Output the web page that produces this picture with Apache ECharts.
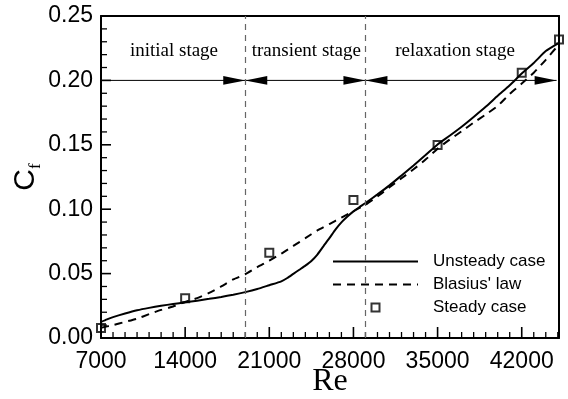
<!DOCTYPE html>
<html>
<head>
<meta charset="utf-8">
<script src="https://cdn.jsdelivr.net/npm/echarts@6/dist/echarts.min.js"></script>
<style>
    html, body { margin: 0; padding: 0; background: #fff; }
    #chart { width: 568px; height: 399px; }
</style>
</head>
<body>
<div id="chart"></div>
<script>
// unsteady case (solid line)
const unsteadyRe = [
    7000, 7500, 8000, 9000, 10000, 11000, 12000, 13000, 14000, 15000,
    16000, 17000, 18000, 19000, 20000, 21000, 22000, 22500, 23000, 23500,
    24000, 24500, 25000, 25500, 26000, 26500, 27000, 27500, 28000, 28500,
    29000, 30000, 31000, 32000, 33000, 34000, 35000, 36000, 37000, 38000,
    39000, 40000, 41000, 42000, 43000, 44000, 45100
]
const unsteadyCf = [
    0.0125, 0.0145, 0.0162, 0.0190, 0.0215, 0.0234, 0.0250, 0.0264, 0.0277, 0.0290,
    0.0304, 0.0319, 0.0336, 0.0356, 0.0380, 0.0410, 0.0440, 0.0466, 0.0498, 0.0530,
    0.0562, 0.0598, 0.0648, 0.0712, 0.0775, 0.0842, 0.0898, 0.0943, 0.0983, 0.1016,
    0.1048, 0.1115, 0.1185, 0.1262, 0.1340, 0.1420, 0.1503, 0.1570, 0.1640, 0.1716,
    0.1795, 0.1880, 0.1962, 0.2053, 0.2135, 0.2228, 0.2292
]

// Blasius' law (dashed line)
const blasiusRe = [
    7000, 8000, 9000, 10000, 11000, 12000, 13000, 14000, 15000, 16000,
    17000, 18000, 19000, 20000, 21000, 22000, 23000, 24000, 25000, 26000,
    27000, 28000, 29000, 30000, 31000, 32000, 33000, 34000, 35000, 36000,
    37000, 38000, 39000, 40000, 41000, 42000, 43000, 44000, 45100
]
const blasiusCf = [
    0.0080, 0.0100, 0.0125, 0.0150, 0.0185, 0.0218, 0.0245, 0.0280, 0.0310, 0.0350,
    0.0400, 0.0455, 0.0495, 0.0550, 0.0600, 0.0655, 0.0715, 0.0775, 0.0835, 0.0885,
    0.0935, 0.0985, 0.1035, 0.1100, 0.1170, 0.1240, 0.1310, 0.1385, 0.1470, 0.1540,
    0.1605, 0.1672, 0.1735, 0.1802, 0.1895, 0.1975, 0.2060, 0.2160, 0.2280
]

// steady case (squares)
const steadyRe = [7000, 14000, 21000, 28000, 35000, 42000, 45100]
const steadyCf = [0.0078, 0.0308, 0.0662, 0.1071, 0.1498, 0.2059, 0.2318]

// stage annotations
const stageBounds = [19000, 29000]
const stageNames = ['initial stage', 'transient stage', 'relaxation stage']
const stageTextRe = [13070, 24080, 36450]
const stageTextCf = 0.223
const arrowCf = 0.20
const arrowLineRe = [7000, 44900]
const arrowTipRe = [19000, 19000, 29000, 29000, 44900]
const arrowDir = [1, -1, 1, -1, 1]

// axis ranges and ticks (major / minor), drawn inward
const reMin = 7000
const reMax = 45100
const cfMin = 0
const cfMax = 0.25
const reMajorTicks = [14000, 21000, 28000, 35000, 42000]
const cfMajorTicks = [0.05, 0.10, 0.15, 0.20]
const reMinorStep = 1000
const cfMinorStep = 0.01

const sans = 'Liberation Sans, Arial, sans-serif'
const serif = 'Liberation Serif, Times New Roman, serif'

const zip = (xs, ys) => xs.map((x, i) => [x, ys[i]])

// tick items: [re, cf, axis (0 = x, 1 = y), major?]
const tickItems = []
for (let v = reMin + reMinorStep; v < reMax; v += reMinorStep) {
    tickItems.push([v, cfMin, 0, reMajorTicks.includes(v) ? 1 : 0])
}
for (let k = 1; k < 25; k++) {
    const v = Math.round(k * cfMinorStep * 100) / 100
    tickItems.push([reMin, v, 1, cfMajorTicks.includes(v) ? 1 : 0])
}

const frameLine = { show: true, onZero: false, lineStyle: { color: '#000', width: 2 } }

const chart = echarts.init(document.getElementById('chart'))

const option = {
    animation: false,
    backgroundColor: '#fff',
    grid: {
        left: 101,
        right: 9,
        top: 16,
        bottom: 61,
        outerBoundsMode: 'none'
    },
    legend: {
        orient: 'vertical',
        left: 327,
        top: 248,
        itemWidth: 85,
        itemHeight: 8,
        itemGap: 6,
        selectedMode: false,
        data: [
            { name: 'Unsteady case', itemStyle: { opacity: 0 } },
            { name: "Blasius' law", itemStyle: { opacity: 0 } },
            { name: 'Steady case', icon: 'path://M0,0L10,0L10,10L0,10Z' }
        ],
        textStyle: {
            fontFamily: sans,
            fontSize: 17,
            color: '#000',
            padding: [0, 0, 0, 10]
        }
    },
    xAxis: [
        {
            type: 'value',
            position: 'bottom',
            min: reMin,
            max: reMax,
            interval: 7000,
            name: 'Re',
            nameLocation: 'middle',
            nameGap: 28,
            nameMoveOverlap: false,
            nameTextStyle: { fontFamily: serif, fontSize: 32, color: '#000' },
            axisLine: frameLine,
            axisTick: { show: false },
            axisLabel: {
                color: '#000',
                fontFamily: sans,
                fontSize: 23,
                margin: 12,
                showMaxLabel: false,
                formatter: (v) => String(v)
            },
            splitLine: { show: false }
        },
        {
            // top frame
            type: 'value',
            position: 'top',
            min: reMin,
            max: reMax,
            axisLine: frameLine,
            axisTick: { show: false },
            axisLabel: { show: false },
            splitLine: { show: false }
        }
    ],
    yAxis: [
        {
            type: 'value',
            position: 'left',
            min: cfMin,
            max: cfMax,
            interval: 0.05,
            name: '{c|C}{f|f}',
            nameLocation: 'middle',
            nameGap: 57,
            nameRotate: 90,
            nameMoveOverlap: false,
            nameTextStyle: {
                rich: {
                    c: { fontFamily: sans, fontSize: 30, color: '#000', padding: [0, 0, 3, 0] },
                    f: { fontFamily: serif, fontSize: 17, color: '#000', verticalAlign: 'bottom' }
                }
            },
            axisLine: frameLine,
            axisTick: { show: false },
            axisLabel: {
                color: '#000',
                fontFamily: sans,
                fontSize: 23,
                margin: 8,
                formatter: (v) => Number(v).toFixed(2)
            },
            splitLine: { show: false }
        },
        {
            // right frame
            type: 'value',
            position: 'right',
            min: cfMin,
            max: cfMax,
            axisLine: frameLine,
            axisTick: { show: false },
            axisLabel: { show: false },
            splitLine: { show: false }
        }
    ],
    series: [
        {
            name: 'stage line',
            type: 'line',
            data: zip(arrowLineRe, [arrowCf, arrowCf]),
            symbol: 'none',
            lineStyle: { color: '#000', width: 1 },
            silent: true,
            markLine: {
                silent: true,
                symbol: ['none', 'none'],
                label: { show: false },
                lineStyle: { color: '#666', type: [6, 5], width: 1.2 },
                data: stageBounds.map((v) => ({ xAxis: v }))
            }
        },
        {
            name: 'stage arrows',
            type: 'custom',
            silent: true,
            data: arrowTipRe.map((re, i) => [re, arrowCf, arrowDir[i]]),
            encode: { x: 0, y: 1 },
            renderItem(params, api) {
                const tip = api.coord([api.value(0), api.value(1)])
                const d = api.value(2)
                return {
                    type: 'polygon',
                    shape: {
                        points: [
                            tip,
                            [tip[0] - d * 22, tip[1] - 4.3],
                            [tip[0] - d * 22, tip[1] + 4.3]
                        ]
                    },
                    style: { fill: '#000' }
                }
            }
        },
        {
            // inward axis ticks, drawn as thin filled bars
            name: 'axis ticks',
            type: 'custom',
            silent: true,
            data: tickItems,
            encode: { x: 0, y: 1 },
            renderItem(params, api) {
                const p = api.coord([api.value(0), api.value(1)])
                const axis = api.value(2)
                const major = api.value(3) === 1
                const len = major ? (axis === 0 ? 11 : 10) : 6
                const hw = major ? 0.8 : 0.65
                const pts = axis === 0
                    ? [[p[0] - hw, p[1]], [p[0] + hw, p[1]], [p[0] + hw, p[1] - len], [p[0] - hw, p[1] - len]]
                    : [[p[0], p[1] - hw], [p[0], p[1] + hw], [p[0] + len, p[1] + hw], [p[0] + len, p[1] - hw]]
                return {
                    type: 'polygon',
                    shape: { points: pts },
                    style: { fill: '#000' }
                }
            }
        },
        {
            name: 'stage text',
            type: 'custom',
            silent: true,
            data: stageTextRe.map((re, i) => [re, stageTextCf, i]),
            encode: { x: 0, y: 1 },
            renderItem(params, api) {
                const p = api.coord([api.value(0), api.value(1)])
                return {
                    type: 'text',
                    x: p[0],
                    y: p[1],
                    style: {
                        text: stageNames[api.value(2)],
                        fontFamily: serif,
                        fontSize: 19,
                        fill: '#000',
                        align: 'center',
                        verticalAlign: 'middle'
                    }
                }
            }
        },
        {
            name: 'Unsteady case',
            type: 'line',
            data: zip(unsteadyRe, unsteadyCf),
            symbol: 'none',
            smooth: 0.2,
            z: 4,
            lineStyle: { color: '#000', width: 2 },
            itemStyle: { color: '#000' }
        },
        {
            name: "Blasius' law",
            type: 'line',
            data: zip(blasiusRe, blasiusCf),
            symbol: 'none',
            smooth: 0.2,
            z: 4,
            lineStyle: { color: '#000', width: 2, type: [8, 6] },
            itemStyle: { color: '#000' }
        },
        {
            name: 'Steady case',
            type: 'scatter',
            data: zip(steadyRe, steadyCf),
            symbol: 'rect',
            symbolSize: 8,
            z: 5,
            itemStyle: { color: 'rgba(255,255,255,0)', borderColor: '#000', borderWidth: 2 }
        }
    ]
}

chart.setOption(option)
</script>
</body>
</html>
